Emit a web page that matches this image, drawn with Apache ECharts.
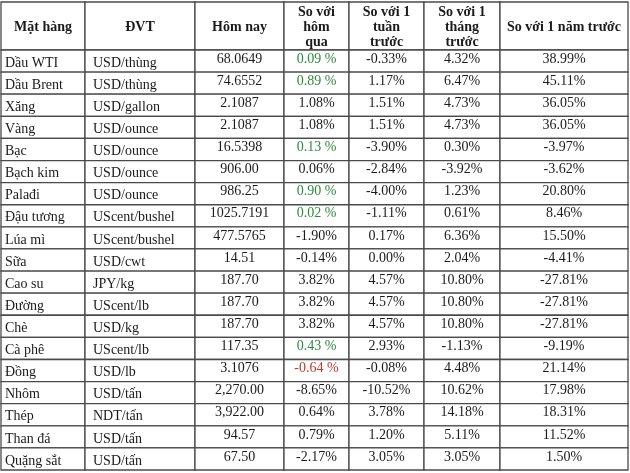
<!DOCTYPE html>
<html><head><meta charset="utf-8">
<script src="https://cdn.jsdelivr.net/npm/echarts@6/dist/echarts.min.js"></script>
<style>html,body{margin:0;padding:0;background:#fff}#c{width:630px;height:473px}</style>
</head><body><div id="c"></div>
<script>
var headers = ['Mặt hàng', 'ĐVT', 'Hôm nay', 'So với\nhôm\nqua', 'So với 1\ntuần\ntrước', 'So với 1\ntháng\ntrước', 'So với 1 năm trước'];
var items = ['Dầu WTI','Dầu Brent','Xăng','Vàng','Bạc','Bạch kim','Palađi','Đậu tương','Lúa mì','Sữa','Cao su','Đường','Chè','Cà phê','Đồng','Nhôm','Thép','Than đá','Quặng sắt'];
var units = ['USD/thùng','USD/thùng','USD/gallon','USD/ounce','USD/ounce','USD/ounce','USD/ounce','UScent/bushel','UScent/bushel','USD/cwt','JPY/kg','UScent/lb','USD/kg','UScent/lb','USD/lb','USD/tấn','NDT/tấn','USD/tấn','USD/tấn'];
var today = ['68.0649','74.6552','2.1087','2.1087','16.5398','906.00','986.25','1025.7191','477.5765','14.51','187.70','187.70','187.70','117.35','3.1076','2,270.00','3,922.00','94.57','67.50'];
var vsDay = ['0.09 %','0.89 %','1.08%','1.08%','0.13 %','0.06%','0.90 %','0.02 %','-1.90%','-0.14%','3.82%','3.82%','3.82%','0.43 %','-0.64 %','-8.65%','0.64%','0.79%','-2.17%'];
var vsWeek = ['-0.33%','1.17%','1.51%','1.51%','-3.90%','-2.84%','-4.00%','-1.11%','0.17%','0.00%','4.57%','4.57%','4.57%','2.93%','-0.08%','-10.52%','3.78%','1.20%','3.05%'];
var vsMonth = ['4.32%','6.47%','4.73%','4.73%','0.30%','-3.92%','1.23%','0.61%','6.36%','2.04%','10.80%','10.80%','10.80%','-1.13%','4.48%','10.62%','14.18%','5.11%','3.05%'];
var vsYear = ['38.99%','45.11%','36.05%','36.05%','-3.97%','-3.62%','20.80%','8.46%','15.50%','-4.41%','-27.81%','-27.81%','-27.81%','-9.19%','21.14%','17.98%','18.31%','11.52%','1.50%'];

var columns = [items, units, today, vsDay, vsWeek, vsMonth, vsYear];
var colEdges = [0, 84, 194, 283, 348, 423, 499, 627];
var headerH = 48, rowH = 22.1;
var totalH = headerH + rowH * items.length;

function rowTop(r) { return r === 0 ? 0 : headerH + (r - 1) * rowH; }
function rowBot(r) { return r === 0 ? headerH : headerH + r * rowH; }

var cells = [];
for (var r = 0; r <= items.length; r++) {
  for (var c = 0; c < columns.length; c++) cells.push([c, r]);
}

function cellText(c, r) { return r === 0 ? headers[c] : columns[c][r - 1]; }
function cellColor(c, r) {
  if (r > 0 && c === 3) {
    var s = columns[c][r - 1];
    if (s.indexOf(' %') > 0) return s.charAt(0) === '-' ? '#c0392b' : '#2e8b3e';
  }
  return '#1a1a1a';
}

var chart = echarts.init(document.getElementById('c'), null, {renderer: 'canvas'});
chart.setOption({
  animation: false,
  backgroundColor: '#fff',
  grid: {left: 1, right: 2, top: 2, bottom: 3},
  xAxis: {type: 'value', min: 0, max: colEdges[colEdges.length - 1], show: false},
  yAxis: {type: 'value', min: 0, max: totalH, inverse: true, show: false},
  series: [{
    type: 'custom',
    coordinateSystem: 'cartesian2d',
    data: cells,
    renderItem: function (params, api) {
      var c = api.value(0), r = api.value(1);
      var p0 = api.coord([colEdges[c], rowTop(r)]);
      var p1 = api.coord([colEdges[c + 1], rowBot(r)]);
      var w = p1[0] - p0[0], h = p1[1] - p0[1];
      var txt = cellText(c, r);
      var isHeader = r === 0;
      var align = (!isHeader && c < 2) ? 'left' : 'center';
      var tx = align === 'left' ? p0[0] + (c === 0 ? 4 : 8) : p0[0] + w / 2;
      var dy = isHeader ? 1 : (c < 2 ? 2 : -2);
      return {
        type: 'group',
        children: [
          {type: 'rect', shape: {x: p0[0], y: p0[1], width: w, height: h},
           style: {fill: '#fff', stroke: '#4a4a4a', lineWidth: 1.3}},
          {type: 'text', x: tx, y: p0[1] + h / 2 + dy,
           style: {text: txt, fill: cellColor(c, r), align: align, verticalAlign: 'middle',
                   font: (isHeader ? 'bold ' : '') + '14px "Liberation Serif", "Times New Roman", serif',
                   lineHeight: 15}}
        ]
      };
    }
  }]
});
</script></body></html>
